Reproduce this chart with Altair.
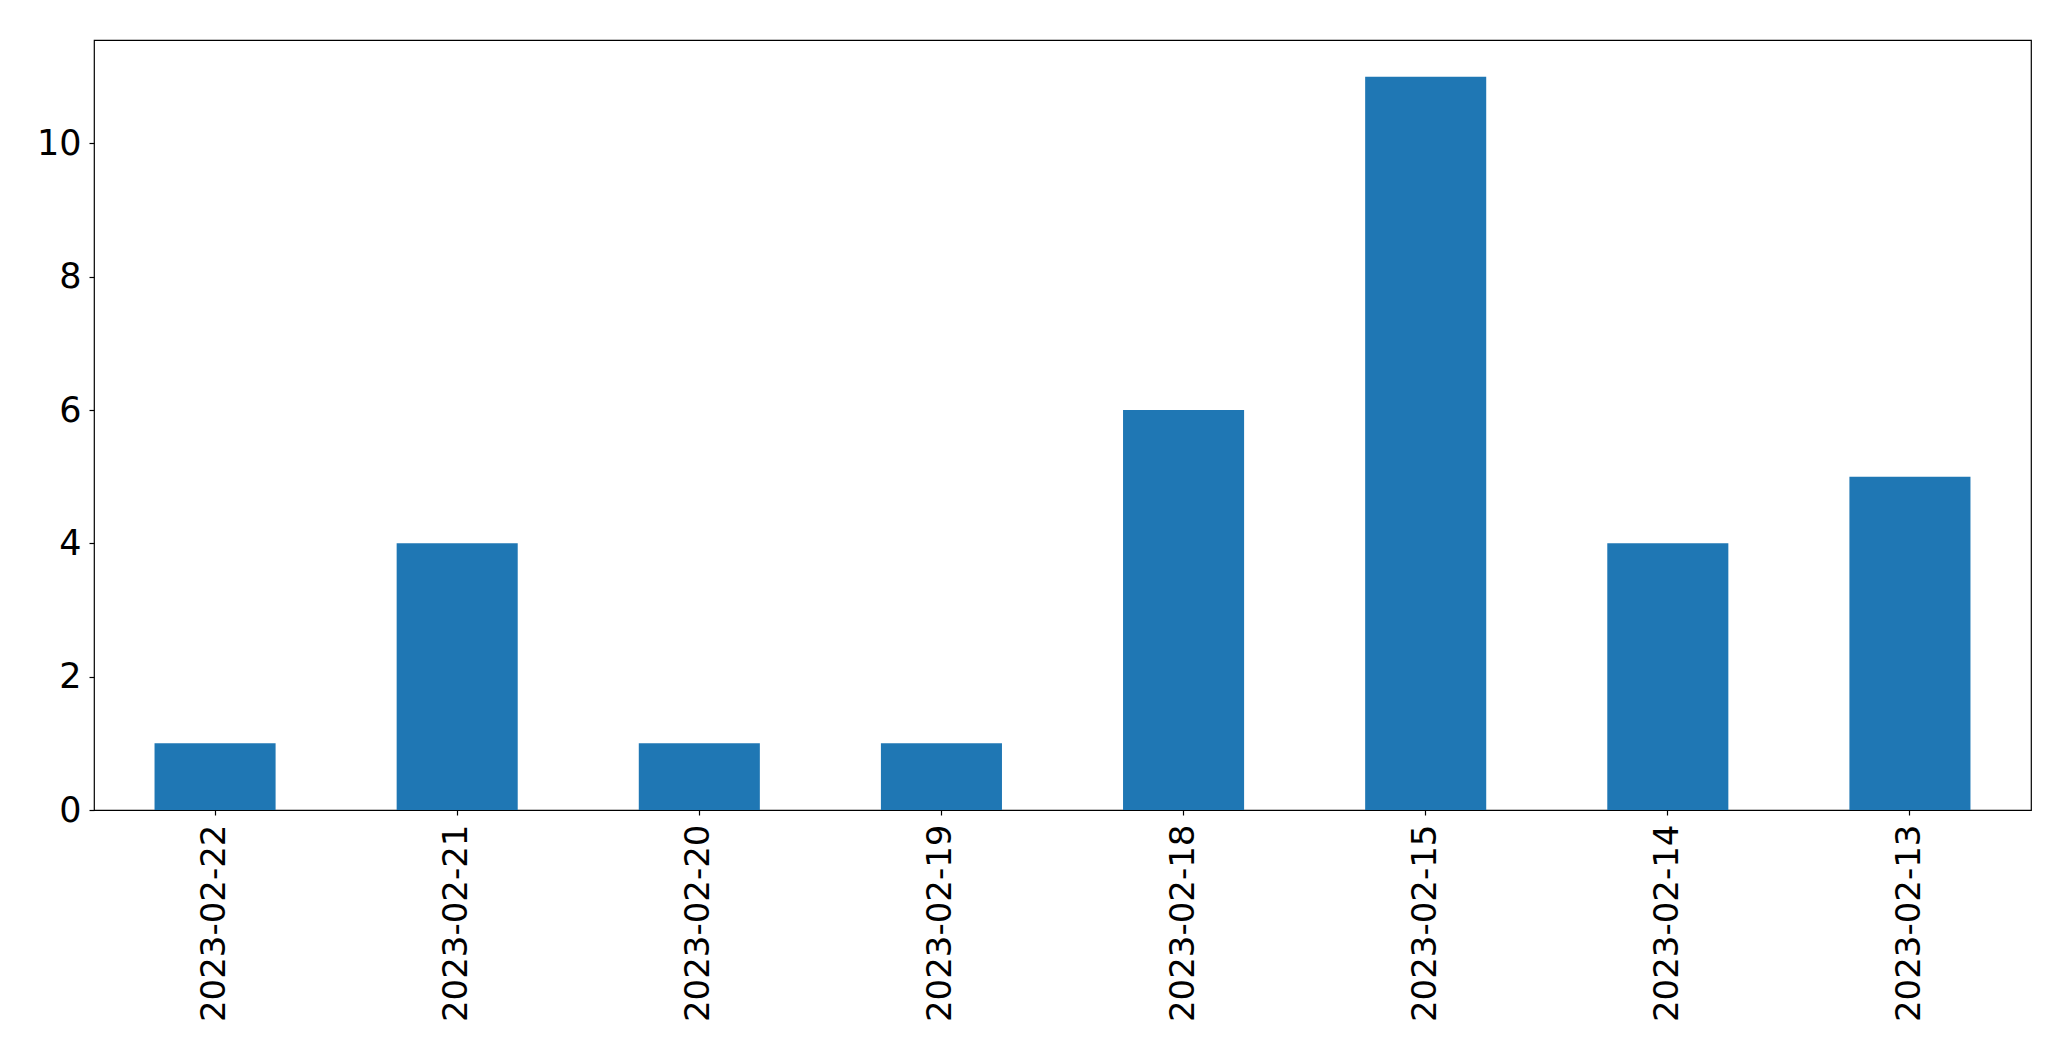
import altair as alt
import pandas as pd

dates = ["2023-02-22", "2023-02-21", "2023-02-20", "2023-02-19",
         "2023-02-18", "2023-02-15", "2023-02-14", "2023-02-13"]
counts = [1, 4, 1, 1, 6, 11, 4, 5]
y_ticks = [0, 2, 4, 6, 8, 10]

df = pd.DataFrame({"date": dates, "count": counts})

FONT = "DejaVu Sans"

chart = alt.Chart(df).mark_bar(color="#1f77b4").encode(
    x=alt.X("date:N", sort=dates, title=None,
            scale=alt.Scale(paddingInner=0.5, paddingOuter=0.25),
            axis=alt.Axis(labelAngle=270, labelFont=FONT, labelFontSize=34,
                          labelColor="black", tickColor="black", tickSize=5,
                          tickWidth=1.2, labelPadding=9, domain=False,
                          labelLimit=0)),
    y=alt.Y("count:Q", title=None,
            scale=alt.Scale(domain=[0, 11.55], nice=False, zero=True),
            axis=alt.Axis(values=y_ticks, grid=False, labelFont=FONT,
                          labelFontSize=35, labelColor="black", tickColor="black",
                          tickSize=5, tickWidth=1.2, labelPadding=8, domain=False,
                          labelBaseline="middle")),
).properties(
    width=1937, height=770,
    autosize=alt.AutoSizeParams(type="none"),
    padding={"left": 86, "top": 32, "right": 30, "bottom": 230},
).configure(
    background="white",
    view=alt.ViewConfig(stroke="black", strokeWidth=1.2),
)

chart.save("out.html", embed_options={"renderer": "svg", "actions": False})
